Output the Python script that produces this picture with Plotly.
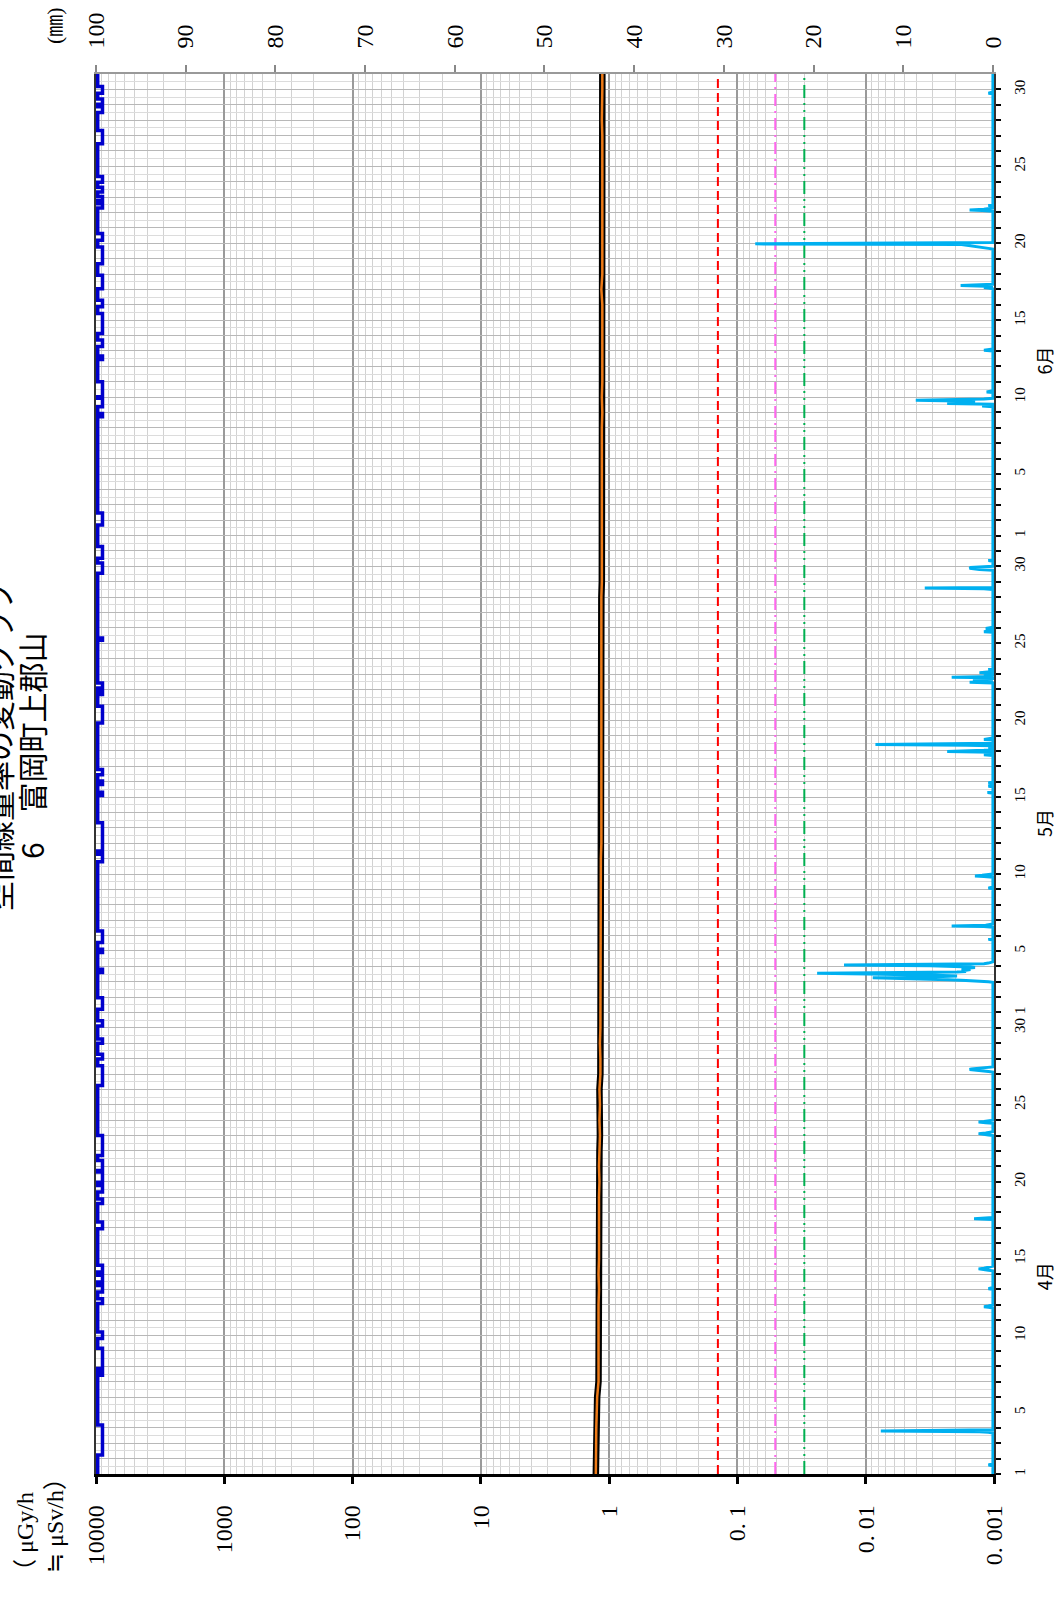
import pandas as pd
import plotly.graph_objects as go

# ---------------- data ----------------
# daily air dose rate (µGy/h), 1 Apr .. 1 Jul
dose_dates = pd.date_range("2024-04-01", "2024-07-01", freq="D")
dose_rate = [
    # April
    1.27, 1.27, 1.26, 1.26, 1.25, 1.24, 1.21, 1.21, 1.21, 1.22,
    1.22, 1.21, 1.20, 1.21, 1.20, 1.20, 1.21, 1.20, 1.20, 1.19,
    1.20, 1.19, 1.18, 1.19, 1.18, 1.19, 1.17, 1.17, 1.18, 1.17,
    # May
    1.17, 1.17, 1.16, 1.16, 1.17, 1.17, 1.16, 1.16, 1.16, 1.16,
    1.16, 1.15, 1.15, 1.15, 1.15, 1.15, 1.16, 1.15, 1.15, 1.15,
    1.15, 1.15, 1.15, 1.15, 1.15, 1.15, 1.15, 1.15, 1.14, 1.14, 1.15,
    # June
    1.14, 1.14, 1.14, 1.14, 1.14, 1.14, 1.14, 1.14, 1.13, 1.14,
    1.13, 1.13, 1.13, 1.13, 1.13, 1.13, 1.15, 1.13, 1.13, 1.13,
    1.12, 1.13, 1.13, 1.13, 1.13, 1.13, 1.13, 1.14, 1.13, 1.13,
    # 1 July
    1.13,
]

# hourly rainfall (mm); hours not listed had no rain
rain_time = [
    "2024-04-01 14:00",
    "2024-04-03 17:00", "2024-04-03 18:00", "2024-04-03 19:00", "2024-04-03 20:00",
    "2024-04-11 20:00", "2024-04-11 21:00", "2024-04-11 22:00",
    "2024-04-13 01:00",
    "2024-04-14 06:00", "2024-04-14 07:00", "2024-04-14 08:00", "2024-04-14 09:00", "2024-04-14 10:00",
    "2024-04-17 14:00",
    "2024-04-23 01:00", "2024-04-23 02:00", "2024-04-23 03:00", "2024-04-23 04:00",
    "2024-04-23 20:00", "2024-04-23 21:00", "2024-04-23 22:00",
    "2024-04-27 04:00", "2024-04-27 05:00", "2024-04-27 06:00", "2024-04-27 07:00",
    "2024-04-27 08:00", "2024-04-27 09:00", "2024-04-27 10:00",
    "2024-05-03 00:00", "2024-05-03 01:00", "2024-05-03 02:00", "2024-05-03 03:00",
    "2024-05-03 04:00", "2024-05-03 05:00", "2024-05-03 06:00", "2024-05-03 07:00",
    "2024-05-03 08:00", "2024-05-03 09:00", "2024-05-03 10:00", "2024-05-03 11:00",
    "2024-05-03 12:00", "2024-05-03 13:00", "2024-05-03 14:00", "2024-05-03 15:00",
    "2024-05-03 16:00", "2024-05-03 17:00", "2024-05-03 18:00", "2024-05-03 19:00",
    "2024-05-03 20:00", "2024-05-03 21:00", "2024-05-03 22:00", "2024-05-03 23:00",
    "2024-05-04 00:00", "2024-05-04 01:00", "2024-05-04 02:00", "2024-05-04 03:00",
    "2024-05-04 04:00", "2024-05-04 05:00",
    "2024-05-05 18:00",
    "2024-05-06 14:00", "2024-05-06 15:00", "2024-05-06 16:00",
    "2024-05-09 02:00",
    "2024-05-09 20:00", "2024-05-09 21:00", "2024-05-09 22:00",
    "2024-05-15 07:00", "2024-05-15 17:00", "2024-05-15 22:00",
    "2024-05-17 18:00", "2024-05-17 23:00", "2024-05-18 00:00", "2024-05-18 01:00",
    "2024-05-18 05:00", "2024-05-18 09:00", "2024-05-18 10:00", "2024-05-18 11:00",
    "2024-05-18 18:00",
    "2024-05-22 11:00", "2024-05-22 13:00", "2024-05-22 15:00", "2024-05-22 16:00",
    "2024-05-22 19:00", "2024-05-22 21:00", "2024-05-23 02:00", "2024-05-23 07:00",
    "2024-05-25 18:00", "2024-05-25 23:00",
    "2024-05-28 13:00", "2024-05-28 14:00",
    "2024-05-29 19:00", "2024-05-29 20:00", "2024-05-29 21:00", "2024-05-29 22:00",
    "2024-05-29 23:00", "2024-05-30 09:00",
    "2024-06-09 10:00", "2024-06-09 14:00", "2024-06-09 15:00", "2024-06-09 16:00",
    "2024-06-09 17:00", "2024-06-09 18:00", "2024-06-09 19:00", "2024-06-09 20:00",
    "2024-06-09 21:00", "2024-06-10 08:00",
    "2024-06-13 01:00",
    "2024-06-17 02:00", "2024-06-17 03:00", "2024-06-17 05:00", "2024-06-17 06:00",
    "2024-06-17 07:00",
    "2024-06-19 16:00", "2024-06-19 17:00", "2024-06-19 18:00", "2024-06-19 19:00",
    "2024-06-19 20:00", "2024-06-19 21:00", "2024-06-19 22:00", "2024-06-19 23:00",
    "2024-06-22 03:00", "2024-06-22 04:00", "2024-06-22 05:00", "2024-06-22 11:00",
    "2024-06-29 18:00",
]
rain_mm = [
    0.5,
    0.5, 1.5, 12.5, 1.0,
    0.5, 1.0, 0.5,
    0.5,
    0.5, 1.2, 1.6, 1.0, 0.5,
    2.1,
    0.5, 1.2, 1.6, 0.8,
    0.8, 1.6, 1.0,
    0.5, 1.2, 2.0, 2.6,
    2.4, 1.5, 0.5,
    0.5, 1.5, 3.0, 5.0,
    9.0, 11.0, 13.4, 8.0,
    5.0, 4.0, 6.4, 9.0,
    14.0, 19.6, 8.5, 4.0,
    3.0, 3.5, 3.0, 2.5,
    3.5, 3.0, 2.0, 2.5,
    4.0, 7.0, 16.6, 3.0,
    1.0, 0.5,
    0.5,
    1.0, 4.6, 0.8,
    0.5,
    1.0, 2.0, 1.2,
    0.6, 0.5, 0.5,
    1.0, 5.1, 2.0, 1.0,
    0.5, 3.0, 13.1, 2.0,
    1.0,
    2.6, 1.5, 2.0, 2.2,
    4.6, 1.0, 1.5, 0.5,
    1.0, 0.8,
    1.0, 7.6,
    1.5, 2.4, 2.6, 2.5,
    1.0, 0.5,
    1.2, 5.1, 3.0, 2.0,
    2.5, 4.0, 8.6, 2.0,
    1.0, 0.7,
    1.0,
    0.5, 1.0, 0.8, 3.6,
    0.5,
    0.5, 1.0, 1.5, 2.0,
    3.0, 3.2, 3.5, 26.5,
    1.2, 2.6, 1.0, 0.5,
    0.5,
]

# rain-sensor detection periods (start / end)
sensor_on = [
    "2024-04-02 05:30", "2024-04-07 10:00", "2024-04-07 20:30", "2024-04-09 19:30",
    "2024-04-12 02:00", "2024-04-12 20:00", "2024-04-13 11:30", "2024-04-14 03:00",
    "2024-04-16 22:30", "2024-04-18 14:00", "2024-04-19 08:00", "2024-04-19 23:00",
    "2024-04-20 17:30", "2024-04-21 17:00", "2024-04-26 06:00", "2024-04-27 23:30",
    "2024-04-29 00:00", "2024-04-30 03:00",
    "2024-05-01 05:00", "2024-05-03 14:30", "2024-05-04 21:30", "2024-05-05 13:00",
    "2024-05-10 19:00", "2024-05-11 12:00", "2024-05-15 02:30", "2024-05-15 19:30",
    "2024-05-16 11:00", "2024-05-19 19:30", "2024-05-21 16:00", "2024-05-22 02:00",
    "2024-05-25 04:30", "2024-05-29 13:00", "2024-05-30 12:45",
    "2024-06-01 16:30", "2024-06-08 17:15", "2024-06-09 09:00", "2024-06-10 00:30",
    "2024-06-12 10:30", "2024-06-13 07:00", "2024-06-14 03:00", "2024-06-15 20:45",
    "2024-06-17 01:00", "2024-06-18 16:00", "2024-06-20 04:30", "2024-06-22 07:00",
    "2024-06-22 18:45", "2024-06-23 07:45", "2024-06-23 23:00", "2024-06-26 11:00",
    "2024-06-28 12:00", "2024-06-29 01:00", "2024-06-29 18:00",
]
sensor_off = [
    "2024-04-04 04:30", "2024-04-07 15:30", "2024-04-09 04:00", "2024-04-10 05:30",
    "2024-04-12 09:30", "2024-04-13 06:00", "2024-04-13 22:00", "2024-04-14 13:30",
    "2024-04-17 09:00", "2024-04-18 21:00", "2024-04-19 18:00", "2024-04-20 15:00",
    "2024-04-21 09:00", "2024-04-23 00:00", "2024-04-27 13:00", "2024-04-28 07:00",
    "2024-04-29 06:30", "2024-04-30 11:00",
    "2024-05-01 23:00", "2024-05-03 19:30", "2024-05-05 02:30", "2024-05-06 07:00",
    "2024-05-11 07:00", "2024-05-13 08:00", "2024-05-15 07:30", "2024-05-16 01:00",
    "2024-05-16 19:00", "2024-05-20 21:30", "2024-05-21 21:00", "2024-05-22 10:00",
    "2024-05-25 08:00", "2024-05-30 05:00", "2024-05-31 07:00",
    "2024-06-02 11:00", "2024-06-08 22:30", "2024-06-09 22:00", "2024-06-10 23:45",
    "2024-06-12 16:00", "2024-06-13 17:00", "2024-06-15 10:15", "2024-06-16 07:00",
    "2024-06-17 22:00", "2024-06-19 18:00", "2024-06-20 15:00", "2024-06-22 13:30",
    "2024-06-23 01:00", "2024-06-23 15:30", "2024-06-24 08:00", "2024-06-27 07:45",
    "2024-06-28 21:00", "2024-06-29 09:00", "2024-06-30 04:30",
]

# reference levels (µGy/h)
level_red = 0.142
level_pink = 0.0507
level_green = 0.0301

dose_tick_vals = [10000, 1000, 100, 10, 1, 0.1, 0.01, 0.001]
dose_tick_text = ["10000", "1000", "100", "10", "1", "0. 1", "0. 01", "0. 001"]
rain_tick_vals = [0, 10, 20, 30, 40, 50, 60, 70, 80, 90, 100]
labeled_days = [1, 5, 10, 15, 20, 25, 30]
month_labels = ["4月", "5月", "6月"]
title_text = "空間線量率の変動グラフ"
subtitle_text = "6　富岡町上郡山"
dose_unit = ["（ μGy/h", "≒ μSv/h）"]
rain_unit = "(㎜)"

# ---------------- derived series ----------------
t_start = pd.Timestamp("2024-04-01 00:00")
t_end = pd.Timestamp("2024-07-01 00:00")

hours = pd.date_range(t_start, t_end, freq="h")
rain = pd.Series(0.0, index=hours)
rain.loc[pd.to_datetime(rain_time)] = rain_mm

# step trace for the rain sensor, drawn along the 10000 edge
SENSOR_BASE, SENSOR_UP = 9700, 8900
sx, sy = [SENSOR_BASE], [t_start]
for on, off in zip(sensor_on, sensor_off):
    sx += [SENSOR_BASE, SENSOR_UP, SENSOR_UP, SENSOR_BASE]
    sy += [on, on, off, off]
sx.append(SENSOR_BASE)
sy.append(t_end)

day_ticks = pd.date_range(t_start, "2024-06-30", freq="D")
day_text = [str(d.day) if d.day in labeled_days else "" for d in day_ticks]

# ---------------- figure ----------------
L, R, T, B = 96, 994, 72, 1474
W, H = 1059, 1601

SERIF = "Liberation Serif, Noto Sans CJK JP, serif"
CJK = "Noto Sans CJK JP, sans-serif"

fig = go.Figure()

for lvl, col, dash in [
    (level_red, "#FF0000", "9px,5px"),
    (level_pink, "#FF66EE", "12px,5px,2px,5px"),
    (level_green, "#00B050", "13px,5px,2px,5px,2px,5px"),
]:
    fig.add_trace(go.Scatter(
        x=[lvl, lvl], y=[t_start, t_end], mode="lines",
        line=dict(color=col, width=2, dash=dash),
        xaxis="x", yaxis="y", hoverinfo="skip", showlegend=False))

fig.add_trace(go.Scatter(
    x=rain.values, y=rain.index, mode="lines",
    line=dict(color="#00B0F0", width=3),
    xaxis="x2", yaxis="y", showlegend=False))

fig.add_trace(go.Scatter(
    x=sx, y=sy, mode="lines",
    line=dict(color="#0000CC", width=3.5),
    xaxis="x", yaxis="y", showlegend=False))

fig.add_trace(go.Scatter(
    x=dose_rate, y=dose_dates, mode="lines",
    line=dict(color="#000000", width=6.5),
    xaxis="x", yaxis="y", showlegend=False))
fig.add_trace(go.Scatter(
    x=dose_rate, y=dose_dates, mode="lines",
    line=dict(color="#EE7B18", width=2.5),
    xaxis="x", yaxis="y", showlegend=False))

fig.update_layout(
    width=W, height=H,
    margin=dict(l=L, r=W - R, t=T, b=H - B, pad=0),
    paper_bgcolor="white", plot_bgcolor="white",
    showlegend=False,
    xaxis=dict(
        type="log", range=[4, -3], side="bottom",
        tickmode="array", tickvals=dose_tick_vals, ticktext=dose_tick_text,
        tickangle=-90, tickfont=dict(family=SERIF, size=24, color="black"),
        ticks="outside", ticklen=7, tickwidth=2.5, tickcolor="black",
        ticklabelstandoff=12,
        showline=True, linecolor="black", linewidth=2.5,
        showgrid=True, gridcolor="#9a9a9a", gridwidth=1.5,
        minor=dict(dtick="D1", showgrid=True, gridcolor="#d2d2d2", gridwidth=1, ticks=""),
        zeroline=False,
    ),
    xaxis2=dict(
        overlaying="x", side="top", range=[100, -0.12],
        tickmode="array", tickvals=rain_tick_vals,
        tickangle=-90, tickfont=dict(family=SERIF, size=24, color="black"),
        ticks="outside", ticklen=7, tickwidth=1.5, tickcolor="#888888",
        ticklabelstandoff=12,
        showline=True, linecolor="#999999", linewidth=1.5,
        showgrid=False, zeroline=False,
    ),
    yaxis=dict(
        type="date", range=[t_start, t_end], side="right",
        tickmode="array", tickvals=day_ticks, ticktext=day_text,
        tickangle=-90, tickfont=dict(family=SERIF, size=15, color="black"),
        ticks="outside", ticklen=5, tickwidth=2, tickcolor="black",
        ticklabelstandoff=6,
        showline=True, linecolor="#333333", linewidth=1.5, mirror=True,
        showgrid=True, gridcolor="#b8b8b8", gridwidth=1,
        minor=dict(tickmode="linear", tick0="2024-04-01 12:00", dtick=86400000,
                   showgrid=True, gridcolor="#dcdcdc", gridwidth=1, ticks=""),
        zeroline=False,
    ),
)


def px(xp):
    return (xp - L) / (R - L)


def py(yp):
    return (B - yp) / (B - T)


annotations = [
    dict(text=title_text, x=px(-2), y=py(745), font=dict(family=CJK, size=30)),
    dict(text=subtitle_text, x=px(31), y=py(745), font=dict(family=CJK, size=30)),
    dict(text=dose_unit[0], x=px(25), y=py(1538), font=dict(family=SERIF, size=24)),
    dict(text=dose_unit[1], x=px(55), y=py(1520), font=dict(family=SERIF, size=24)),
    dict(text=rain_unit, x=px(54), y=py(24), font=dict(family=SERIF, size=22)),
]
for label, ypos in zip(month_labels, [1276, 822, 359]):
    annotations.append(dict(text=label, x=px(1044), y=py(ypos), font=dict(family=CJK, size=18)))

for a in annotations:
    a.update(xref="paper", yref="paper", xanchor="center", yanchor="middle",
             showarrow=False, textangle=-90)
    a["font"]["color"] = "black"
fig.update_layout(annotations=annotations)

fig.write_html("out.html")
